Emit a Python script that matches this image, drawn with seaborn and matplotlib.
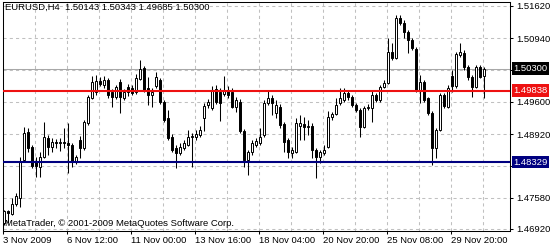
import numpy as np
import pandas as pd
import seaborn as sns
import matplotlib
matplotlib.use("Agg")
import matplotlib.pyplot as plt
from matplotlib.transforms import blended_transform_factory

symbol = "EURUSD,H4"

opens = [
    1.47045, 1.47298, 1.47235, 1.47446, 1.47572, 1.48373, 1.48963, 1.48647, 1.48331, 1.48226,
    1.48436, 1.48837, 1.48647, 1.48753, 1.48742, 1.48753, 1.48732, 1.48689, 1.48331, 1.48795,
    1.48626, 1.49153, 1.49680, 1.49807, 1.50039, 1.49954, 1.50060, 1.49807, 1.49701, 1.50017,
    1.49680, 1.49912, 1.49891, 1.49807, 1.50081, 1.50313, 1.49891, 1.49743, 1.49933, 1.50060,
    1.49596, 1.49259, 1.48858, 1.48626, 1.48521, 1.48626, 1.48689, 1.48858, 1.48858, 1.48900,
    1.49259, 1.49533, 1.49469, 1.49870, 1.49807, 1.49764, 1.49849, 1.49807, 1.49490, 1.49596,
    1.48985, 1.48373, 1.48542, 1.48689, 1.48732, 1.48900, 1.49575, 1.49680, 1.49364, 1.49490,
    1.49132, 1.48795, 1.48521, 1.48542, 1.49090, 1.49132, 1.49069, 1.49090, 1.48584, 1.48436,
    1.48521, 1.48647, 1.49280, 1.49343, 1.49575, 1.49638, 1.49786, 1.49701, 1.49533, 1.49427,
    1.49069, 1.49469, 1.49469, 1.49743, 1.49638, 1.49912, 1.49996, 1.50650, 1.50523, 1.51367,
    1.51261, 1.51071, 1.50903, 1.50713, 1.49849, 1.50017, 1.49680, 1.49364, 1.48626, 1.49006,
    1.49743, 1.49490, 1.50144, 1.49933, 1.50587, 1.50629, 1.50334, 1.50123, 1.49912, 1.50334,
    1.50143,
]
highs = [
    1.47319, 1.47319, 1.47572, 1.47678, 1.48436, 1.49069, 1.49048, 1.48689, 1.48436, 1.48542,
    1.49174, 1.48900, 1.48837, 1.48816, 1.48837, 1.49048, 1.49153, 1.48732, 1.48479, 1.48879,
    1.49216, 1.49743, 1.50144, 1.50165, 1.50123, 1.50144, 1.50102, 1.49870, 1.49954, 1.50081,
    1.49870, 1.49975, 1.49954, 1.50186, 1.50481, 1.50355, 1.50123, 1.49891, 1.50228, 1.50102,
    1.49638, 1.49427, 1.48921, 1.48689, 1.48732, 1.48795, 1.49006, 1.48942, 1.49006, 1.49090,
    1.49575, 1.49659, 1.49933, 1.49954, 1.49891, 1.50144, 1.49933, 1.49891, 1.49701, 1.49659,
    1.49027, 1.48584, 1.48795, 1.48837, 1.49048, 1.49638, 1.49849, 1.49743, 1.49638, 1.49554,
    1.49174, 1.48837, 1.48647, 1.49259, 1.49322, 1.49280, 1.49216, 1.49153, 1.48626, 1.48584,
    1.48689, 1.49406, 1.49385, 1.49680, 1.49891, 1.49891, 1.49849, 1.49743, 1.49575, 1.49469,
    1.49512, 1.49554, 1.49849, 1.49786, 1.49954, 1.50060, 1.50945, 1.50840, 1.51430, 1.51430,
    1.51324, 1.51114, 1.50945, 1.50755, 1.50165, 1.50060, 1.49701, 1.49406, 1.49048, 1.49786,
    1.49786, 1.49954, 1.50270, 1.50650, 1.50840, 1.50692, 1.50376, 1.50165, 1.50376, 1.50376,
    1.50343,
]
lows = [
    1.47003, 1.47045, 1.47214, 1.47404, 1.47382, 1.48331, 1.48542, 1.48205, 1.48015, 1.48015,
    1.48415, 1.48479, 1.48542, 1.48626, 1.48563, 1.48626, 1.48099, 1.48226, 1.48289, 1.48415,
    1.48584, 1.49111, 1.49659, 1.49743, 1.49933, 1.49891, 1.49680, 1.49490, 1.49659, 1.49364,
    1.49638, 1.49722, 1.49743, 1.49764, 1.50060, 1.49807, 1.49533, 1.49490, 1.49891, 1.49554,
    1.49174, 1.48795, 1.48542, 1.48205, 1.48479, 1.48584, 1.48668, 1.48226, 1.48795, 1.48858,
    1.48985, 1.49469, 1.49427, 1.49554, 1.49195, 1.49722, 1.49680, 1.49469, 1.49385, 1.48942,
    1.48226, 1.48057, 1.48479, 1.48647, 1.48689, 1.48858, 1.49533, 1.49322, 1.49259, 1.49048,
    1.48542, 1.48415, 1.48415, 1.48521, 1.48795, 1.48795, 1.48900, 1.48415, 1.47994, 1.48310,
    1.48479, 1.48626, 1.49216, 1.49322, 1.49533, 1.49596, 1.49638, 1.49490, 1.49385, 1.48858,
    1.49048, 1.49427, 1.49174, 1.49596, 1.49596, 1.49891, 1.49975, 1.50481, 1.50502, 1.51219,
    1.50945, 1.50629, 1.50692, 1.49807, 1.49575, 1.49596, 1.49322, 1.48268, 1.48415, 1.48985,
    1.49469, 1.49469, 1.49807, 1.49891, 1.50544, 1.50270, 1.50060, 1.49701, 1.49891, 1.50102,
    1.49685,
]
closes = [
    1.47298, 1.47256, 1.47446, 1.47614, 1.48331, 1.48942, 1.48626, 1.48247, 1.48247, 1.48436,
    1.48858, 1.48647, 1.48753, 1.48742, 1.48753, 1.48732, 1.48689, 1.48331, 1.48436, 1.48626,
    1.49174, 1.49701, 1.50017, 1.50039, 1.49975, 1.50060, 1.49743, 1.49701, 1.49912, 1.49701,
    1.49807, 1.49807, 1.49786, 1.50102, 1.50291, 1.49849, 1.49743, 1.49807, 1.50123, 1.49596,
    1.49216, 1.48837, 1.48584, 1.48521, 1.48647, 1.48732, 1.48858, 1.48879, 1.48921, 1.49006,
    1.49512, 1.49596, 1.49828, 1.49596, 1.49575, 1.49849, 1.49743, 1.49490, 1.49638, 1.48985,
    1.48373, 1.48542, 1.48732, 1.48774, 1.48858, 1.49575, 1.49680, 1.49575, 1.49533, 1.49111,
    1.48753, 1.48542, 1.48584, 1.49153, 1.49153, 1.49069, 1.49090, 1.48584, 1.48436, 1.48542,
    1.48584, 1.49280, 1.49343, 1.49533, 1.49680, 1.49786, 1.49701, 1.49533, 1.49427, 1.49069,
    1.49469, 1.49490, 1.49743, 1.49638, 1.49912, 1.49996, 1.50650, 1.50523, 1.51367, 1.51261,
    1.51071, 1.50903, 1.50734, 1.49849, 1.50017, 1.49638, 1.49364, 1.48626, 1.49006, 1.49743,
    1.49512, 1.49891, 1.49933, 1.50608, 1.50650, 1.50334, 1.50123, 1.49912, 1.50334, 1.50123,
    1.50300,
]

tick_bars = [0, 16, 32, 48, 64, 80, 96, 112]
tick_labels = ["3 Nov 2009", "6 Nov 12:00", "11 Nov 00:00", "13 Nov 16:00",
               "18 Nov 04:00", "20 Nov 20:00", "25 Nov 08:00", "29 Nov 20:00"]
grid_levels = [1.46920, 1.47580, 1.48250, 1.48920, 1.49600, 1.50270, 1.50940, 1.51620]
level_labels = ["1.46920", "1.47580", "", "1.48920", "1.49600", "", "1.50940", "1.51620"]
red_level = 1.49838
navy_level = 1.48329
copyright_text = "MetaTrader, \u00a9 2001-2009 MetaQuotes Software Corp."

FS = 6.8

sns.set_style("white")
plt.rcParams['font.family'] = ['Liberation Sans', 'DejaVu Sans']
plt.rcParams['font.size'] = FS

df = pd.DataFrame(dict(open=opens, high=highs, low=lows, close=closes))
df['bar'] = np.arange(len(df))
df['bull'] = df['close'] >= df['open']
df['body_lo'] = df[['open', 'close']].min(axis=1)
df['body_h'] = (df['open'] - df['close']).abs()

fig = plt.figure(figsize=(5.5, 2.5), dpi=100)
fig.patch.set_facecolor('white')
ax = fig.add_axes([3/550, 19/250, 507/550, 229/250])
ax.set_facecolor('white')
ax.set_xlim(-0.25, 126.5)
ax.set_ylim(1.46877, 1.51704)

grid_kw = dict(color='#c0c0c0', lw=0.75, ls=(0, (3, 3)), zorder=0)
for lv in grid_levels:
    ax.axhline(lv, **grid_kw)
for b in range(8, 127, 8):
    ax.axvline(b - 0.25, **grid_kw)

bid = closes[-1]
ax.axhline(bid, color='#a8a8a8', lw=0.75, zorder=1)

ax.vlines(df['bar'], df['low'], df['high'], color='black', lw=0.75, zorder=2)
ax.bar(df['bar'], df['body_h'], bottom=df['body_lo'], width=0.6,
       color=np.where(df['bull'], 'white', 'black'), edgecolor='black',
       linewidth=0.7, zorder=3)

ax.axhline(red_level, color='#ee1111', lw=1.5, zorder=4)
ax.axhline(navy_level, color='#000080', lw=1.5, zorder=4)

for s in ax.spines.values():
    s.set_color('black')
    s.set_linewidth(0.75)
    s.set_visible(True)

ax.yaxis.tick_right()
ax.set_yticks(grid_levels, level_labels)
ax.tick_params(axis='y', direction='out', length=2.2, width=0.75, color='black',
               pad=2.0, labelsize=FS, labelcolor='black', right=True, left=False)
ax.set_xticks([b - 0.25 for b in tick_bars], tick_labels)
ax.tick_params(axis='x', direction='out', length=2.2, width=0.75, color='black',
               pad=1.5, labelsize=FS, labelcolor='black', bottom=True)
for lbl in ax.get_xticklabels():
    lbl.set_ha('left')

trans = blended_transform_factory(ax.transAxes, ax.transData)
for val, fc in [(bid, 'black'), (red_level, '#ee1111'), (navy_level, '#000080')]:
    ax.annotate(f"{val:.5f}", xy=(1, val), xycoords=trans, xytext=(2.4, 0),
                textcoords='offset points', ha='left', va='center', color='white',
                fontsize=FS, annotation_clip=False, zorder=6,
                bbox=dict(boxstyle='square,pad=0.18', fc=fc, ec='none'))

fig.text(5/550, 1 - 7/250,
         f"{symbol}  {opens[-1]:.5f} {highs[-1]:.5f} {lows[-1]:.5f} {closes[-1]:.5f}",
         ha='left', va='center', fontsize=FS, color='black')
fig.text(5/550, 1 - 224/250, copyright_text, ha='left', va='center',
         fontsize=FS, color='black')

fig.savefig("out.png", dpi=100, facecolor='white')
